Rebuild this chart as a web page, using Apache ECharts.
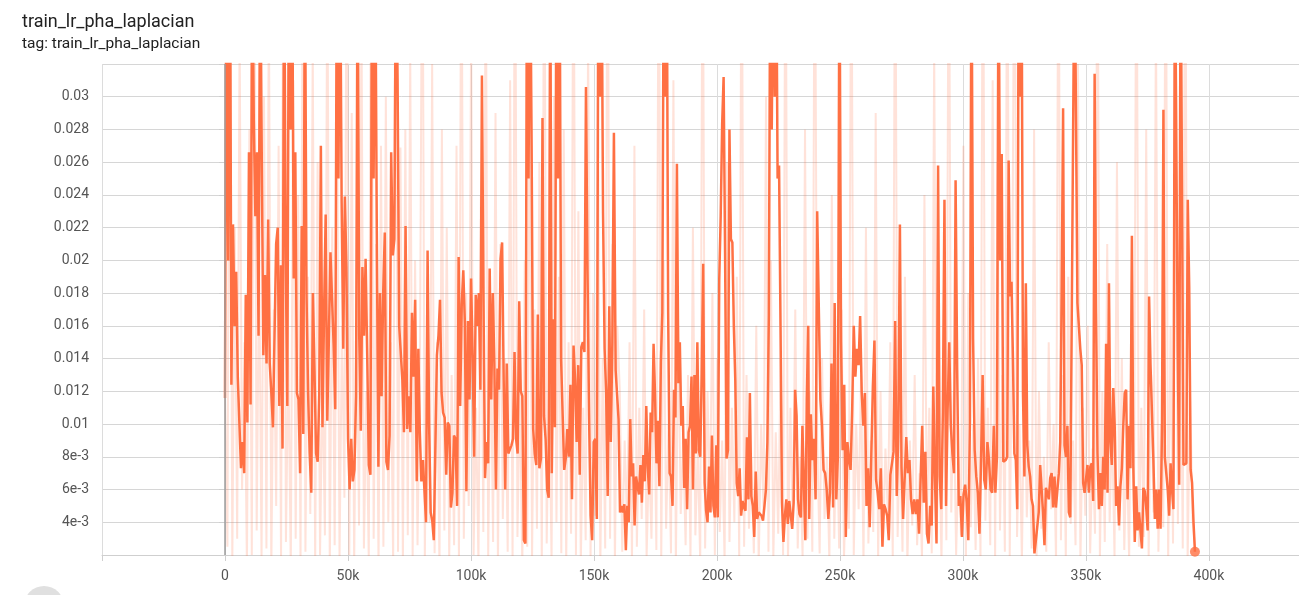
<!DOCTYPE html>
<html>
<head>
<meta charset="utf-8">
<script src="https://cdn.jsdelivr.net/npm/echarts/dist/echarts.min.js"></script>
<style>
  html, body { margin: 0; padding: 0; background: #fff; }
  #main { width: 1299px; height: 595px; }
</style>
</head>
<body>
<div id="main"></div>
<script>
// values are in units of 1e-3
// smoothed line, read in five stretches; each stretch spans [from, to] steps
const smoothParts = [
  [11.6, 45, 20, 45, 12.4, 22.2, 16.0, 19.3, 12.9, 12.8,
   7.3, 8.9, 7.0, 17.9, 10.1, 26.6, 11.2, 40, 28.7, 22.7,
   26.6, 15.4, 40, 26.4, 14.2, 19.1, 13.7, 22.5, 13.7, 11.9,
   9.8, 9.8, 21.0, 22.0, 11.1, 19.7, 8.5, 40, 20.3, 11.1,
   40, 28, 40, 18.9, 26.6, 11.9, 11.5, 7.0, 22.1, 9.4,
   40, 18.0, 11.9, 8.2, 5.8, 18.0, 13.3, 8.2, 7.7, 11.9,
   27.0, 9.8, 16.8, 22.8, 10.2, 15.2, 20.5, 20.5, 14.8, 10.9,
   40, 25, 40, 23.5, 14.6, 23.9, 19.6, 9.1, 6.0, 9.1,
   6.5, 7.2, 11.7, 40, 15.4, 9.6, 19.6, 15.4, 20.1, 14.2,
   7.5, 6.9, 40, 25, 40, 21.7, 7.4, 18.0, 11.7, 18.0,
   21.7, 7.7, 7.2, 9.3, 26.6, 20.3, 21.3, 40, 31.1, 16.0,
   16.0, 12.7, 9.5, 22.1, 9.7, 11.7, 9.5, 16.8, 12.9, 17.6,
   6.5, 14.6],
  [9.5, 6.5, 7.8, 7.8, 4.0, 20.6, 9.9, 4.6, 4.1, 2.9,
   2.9, 14.2, 15.4, 17.6, 11.9, 10.7, 10.4, 6.9, 10.1, 9.9,
   4.9, 5.8, 9.3, 9.1, 5.0, 20.2, 11.1, 17.3, 19.4, 16.2,
   5.9, 16.3, 11.5, 18.9, 14.2, 8.0, 17.9, 16.0, 18.0, 12.1,
   31.3, 17.6, 6.7, 8.9, 7.6, 19.5, 11.5, 18.0, 13.8, 6.0,
   13.4, 12.1, 20.1, 21.1, 12.7, 6.0, 13.7, 8.2, 8.3, 8.7,
   9.1, 14.4, 9.1, 8.2, 17.5, 12.0, 11.7, 2.9, 2.7, 40,
   25, 40, 27.0, 9.7, 8.2, 7.5, 16.7, 7.3, 7.9, 28.7,
   10.5, 9.1, 6.0, 5.5, 40, 7.0, 16.4, 9.8, 40, 25,
   40, 13.9, 14.0, 7.2, 7.9, 9.7, 8.0, 12.4, 5.4, 14.8,
   12.7, 8.9, 13.6, 6.9, 14.7, 15.0, 14.4, 30.6, 19.3, 10.5,
   4.4, 2.9, 8.9, 9.1, 4.2, 40, 30, 40, 22.9, 14.6,
   11.9, 5.6, 17.2, 8.9, 15.0, 27.8],
  [13.3, 13.2, 10.3, 4.6, 5.0, 4.6, 5.1, 2.3, 5.0, 4.0,
   10.3, 6.8, 7.6, 3.8, 6.8, 6.2, 5.7, 7.5, 5.2, 8.1,
   6.5, 11.1, 7.4, 5.7, 10.7, 9.5, 14.9, 11.8, 7.6, 10.2,
   6.2, 13.8, 16.8, 40, 30, 40, 16.8, 7.0, 6.8, 5.0,
   12.1, 10.4, 25.9, 12.5, 15.0, 9.9, 11.1, 6.1, 9.1, 4.8,
   9.5, 9.9, 12.9, 6.0, 13.0, 8.2, 15.0, 8.4, 8.0, 13.1,
   19.8, 6.4, 4.7, 4.0, 7.4, 4.6, 9.3, 5.0, 4.3, 8.7,
   4.3, 18.8, 22.7, 28.3, 31.2, 20.5, 7.9, 8.4, 28.0, 21.3,
   21.1, 16.0, 12.7, 6.4, 5.6, 7.3, 4.4, 5.3, 4.9, 4.7,
   9.2, 5.4, 11.9, 5.6, 5.0, 3.1, 7.1, 4.2, 4.6, 4.7,
   4.4, 4.1, 5.0, 6.0, 8.9, 16.6, 40, 28, 40, 30,
   40, 25.0, 25.8, 16.0, 5.2, 2.8, 4.4, 5.4, 3.9, 5.3,
   5.2, 3.6, 5.2, 12.1, 10.5, 5.4, 4.5, 4.3, 9.9, 9.9,
   2.9, 11.5, 16.0],
  [4.2, 10.6, 7.8, 9.1, 5.4, 23.0, 17.2, 11.5, 9.9, 7.2,
   7.0, 6.0, 4.2, 5.8, 13.7, 4.9, 17.4, 5.4, 8.0, 40,
   15, 8.4, 12.4, 3.1, 8.9, 7.8, 7.2, 10.9, 16.0, 12.9,
   14.6, 13.6, 16.6, 11.9, 9.9, 11.9, 5.0, 7.3, 3.7, 3.8,
   12.3, 15.1, 6.6, 5.8, 4.8, 7.3, 2.5, 5.1, 4.8, 4.4,
   2.9, 6.9, 6.8, 8.3, 16.3, 5.6, 9.5, 22.2, 7.4, 4.2,
   4.2, 9.2, 7.0, 7.8, 5.4, 4.5, 5.4, 4.5, 5.4, 3.3,
   6.6, 9.9, 5.2, 8.3, 3.3, 2.7, 5.0, 3.8, 12.3, 6.8,
   2.7, 25.8, 6.8, 4.8, 10.7, 23.7, 5.0, 10.9, 15.0, 9.9,
   8.2, 7.0, 24.9, 13.3, 5.0, 5.6, 3.1, 5.7, 6.3, 5.2,
   2.9, 10.1, 40, 15.2, 8.4, 6.8, 5.8, 3.3, 7.8, 13.0,
   6.6, 6.0, 8.9, 7.8, 6.0, 5.8, 9.9, 5.8, 8.0, 40,
   20, 26.5, 7.7],
  [7.8, 8.0, 26.1, 17.8, 18.7, 14.0, 8.2, 7.8, 4.8, 40,
   30, 40, 11.9, 6.8, 18.6, 8.7, 7.4, 6.8, 5.4, 5.0,
   2.1, 2.9, 2.9, 4.6, 7.5, 6.0, 4.6, 2.6, 6.1, 5.8,
   5.4, 6.7, 7.0, 4.9, 6.8, 4.9, 4.8, 7.0, 8.9, 18.0,
   29.3, 8.7, 8.0, 9.9, 4.6, 4.3, 16.1, 16.1, 40, 40,
   17.4, 16.0, 14.6, 13.6, 6.4, 5.8, 5.8, 7.5, 5.8, 7.4,
   7.6, 5.3, 31.4, 16.8, 8.2, 4.8, 7.0, 5.0, 8.0, 6.0,
   14.9, 5.8, 18.6, 8.9, 7.5, 12.2, 9.9, 5.0, 6.2, 3.8,
   6.2, 7.3, 9.9, 11.9, 12.1, 5.4, 9.9, 7.3, 21.5, 7.4,
   2.8, 6.2, 3.5, 4.6, 4.5, 2.4, 6.1, 5.9, 4.9, 3.5,
   17.8, 13.6, 10.7, 7.8, 4.2, 6.0, 3.6, 6.0, 3.6, 9.7,
   29.2, 8.0, 7.0, 6.0, 4.4, 7.6, 6.0, 4.8, 40, 40,
   14.4, 6.3, 40, 40, 7.5, 7.6, 7.6, 23.7, 18.4, 7.2,
   6.4, 4.0, 2.2]
]
const smoothRanges = [
  [0, 78600],
  [79200, 158100],
  [158800, 237100],
  [237500, 316400],
  [317400, 394300]
]

// raw (light) line, estimated, evenly logged over [0, 394300]
const rawRange = [0, 394300]
const rawValues = [
  12, 2.5, 45, 1.5, 22, 3, 34, 6, 15, 1.2,
  28, 2, 45, 3.5, 20, 1.8, 30, 2.4, 36, 1,
  17, 5, 27, 1.5, 45, 2.8, 14, 1.2, 31, 3,
  24, 1.6, 45, 2.2, 19, 4.5, 33, 1.4, 26, 2,
  13, 3.2, 40, 1.1, 22, 2.6, 29, 1.8, 16, 5.5,
  45, 2, 29, 1.3, 18, 3.8, 35, 2.4, 12, 1.6,
  45, 3, 21, 1.2, 27, 2.5, 30, 4, 15, 1.5,
  45, 2.2, 26.9, 1.4, 28, 3.2, 33, 1.9, 20, 2.6, 14,
  45, 1.6, 19, 4, 32, 2.1, 15, 1.2, 28, 3.5,
  22, 1.8, 13, 2.6, 27, 1.4, 45, 3, 18, 5,
  34, 2, 11, 1.5, 24, 3.4, 40, 1.9, 16, 2.8,
  29, 1.3, 21, 4.2, 14, 2.2, 31, 1.6, 45, 3.1,
  12, 1.4, 20, 2.5, 33, 1.8, 17, 3.6, 26, 1.2,
  45, 2.7, 13, 1.6, 30, 4, 19, 2.1, 28, 1.5,
  15, 3.3, 45, 2, 23, 1.4, 11, 2.9, 34, 1.7,
  18, 4.4, 30, 1.3, 14, 2.4, 45, 3, 21, 1.5, 16,
  12, 2.2, 9, 3.8, 15, 1.6, 27, 2.5, 11, 4.2,
  17, 1.9, 8, 3, 14, 2.3, 45, 1.5, 20, 3.6,
  10, 2.1, 31, 1.4, 16, 4.5, 9, 2.6, 13, 1.8,
  22, 3.2, 8.5, 1.5, 45, 2.4, 12, 5, 18, 2,
  14, 3.4, 9, 1.6, 26, 2.8, 11, 4, 19, 1.7,
  45, 2.5, 13, 3.6, 8, 2.1, 16, 1.4, 10, 4.6,
  30, 2.2, 20, 1.8, 9.5, 3.3, 14, 2, 45, 1.5,
  11, 3.8, 17, 2.4, 8, 1.9, 28, 3, 12, 2.2, 45,
  9, 2.1, 14, 4.2, 8, 1.6, 24, 3, 11, 2.4,
  17, 1.8, 7.5, 3.6, 45, 2, 10, 4.8, 13, 1.5,
  22, 2.7, 9, 3.4, 29, 1.7, 12, 2.5, 8.5, 4.4,
  15, 1.9, 45, 3.1, 10, 2.2, 19, 1.4, 9, 3.8,
  13, 2.6, 7, 1.8, 24, 4, 11, 2.1, 33, 3.3,
  9.5, 1.6, 16, 2.9, 45, 4.6, 12, 2, 8, 3.2,
  27, 1.5, 18, 3.7, 10, 2.3, 14, 1.8, 45, 4.1,
  11, 2.6, 31, 1.7, 26, 3.5, 13, 2.2, 45, 1.9, 17,
  45, 3.1, 10, 1.6, 14, 4.3, 9, 2.4, 28, 1.8,
  12, 3.6, 8, 2.2, 15, 4.8, 10, 1.5, 45, 2.9,
  13, 1.8, 19, 3.9, 9, 2.6, 32, 1.4, 11, 4.4,
  16, 2.1, 8.5, 3.3, 45, 1.7, 12, 2.8, 21, 4,
  10, 1.9, 26, 3.5, 14, 2.3, 9, 1.6, 18, 4.2,
  45, 2.5, 11, 3.1, 28, 1.8, 13, 4.6, 35, 2.2,
  10, 3.7, 45, 1.5, 16, 2.7, 30, 3.9, 20, 2.4,
  45, 1.6, 12, 4.2, 2.5
]

// axis ticks
const xMin = -50000
const xMax = 436600
const xStep = 50000
const yMin = 0.002
const yMax = 0.032
const yStep = 0.002

// spread values evenly over [from, to] steps
function spread (values, range) {
  const n = values.length
  return values.map((v, i) => [range[0] + (range[1] - range[0]) * i / (n - 1), v / 1000])
}

let smoothData = []
smoothParts.forEach((part, i) => {
  smoothData = smoothData.concat(spread(part, smoothRanges[i]))
})
const rawData = spread(rawValues, rawRange)
const lastPoint = smoothData[smoothData.length - 1]

let myChart = echarts.init(document.getElementById('main'))
myChart.setOption({
  animation: false,
  textStyle: { fontFamily: 'Roboto' },
  title: {
    text: 'train_lr_pha_laplacian',
    subtext: 'tag: train_lr_pha_laplacian',
    left: 17,
    top: 8,
    itemGap: 5,
    textStyle: { fontSize: 18, fontWeight: 'normal', color: '#212121', fontFamily: 'Roboto' },
    subtextStyle: { fontSize: 15.5, color: '#212121', fontFamily: 'Roboto' }
  },
  grid: { left: 102, right: 0, top: 64, bottom: 40, outerBoundsMode: 'none', containLabel: false },
  xAxis: {
    type: 'value',
    min: xMin,
    max: xMax,
    interval: xStep,
    axisLine: { show: true, lineStyle: { color: '#cfcfcf' } },
    axisTick: { show: true, length: 6, lineStyle: { color: '#cfcfcf' } },
    axisLabel: {
      color: '#555',
      fontSize: 14,
      margin: 14,
      showMaxLabel: false,
      formatter: function (v) {
        if (v < 0 || v > 400000) return ''
        if (v === 0) return '0'
        return (v / 1000) + 'k'
      }
    },
    splitLine: { show: true, lineStyle: { color: '#dcdcdc' } }
  },
  yAxis: {
    type: 'value',
    min: yMin,
    max: yMax,
    interval: yStep,
    axisLine: { show: true, lineStyle: { color: '#cfcfcf' } },
    axisTick: { show: true, length: 6, lineStyle: { color: '#cfcfcf' } },
    axisLabel: {
      color: '#555',
      fontSize: 14,
      margin: 13,
      formatter: function (v) {
        const m = Math.round(v * 1000)
        if (m <= 2 || m >= 32) return ''
        if (m < 10) return m + 'e-3'
        return String(m / 1000)
      }
    },
    splitLine: { show: true, lineStyle: { color: '#d6d6d6' } }
  },
  graphic: [
    {
      type: 'circle',
      shape: { cx: 44, cy: 606, r: 20 },
      style: { fill: '#e0e0e0' },
      silent: true
    }
  ],
  series: [
    {
      name: 'raw',
      type: 'line',
      data: rawData,
      showSymbol: false,
      clip: true,
      lineStyle: { color: 'rgba(255, 112, 67, 0.2)', width: 2 },
      itemStyle: { color: 'rgba(255, 112, 67, 0.2)' },
      markLine: {
        silent: true,
        symbol: 'none',
        label: { show: false },
        lineStyle: { color: '#9e9e9e', width: 1.5, type: 'solid' },
        data: [{ xAxis: 0 }]
      },
      z: 2
    },
    {
      name: 'smoothed',
      type: 'line',
      data: smoothData,
      showSymbol: false,
      clip: true,
      lineStyle: { color: '#ff7043', width: 2.5 },
      itemStyle: { color: '#ff7043' },
      z: 3
    },
    {
      name: 'last',
      type: 'scatter',
      data: [lastPoint],
      symbolSize: 10,
      itemStyle: { color: '#ff7043' },
      z: 4
    }
  ]
})
</script>
</body>
</html>
